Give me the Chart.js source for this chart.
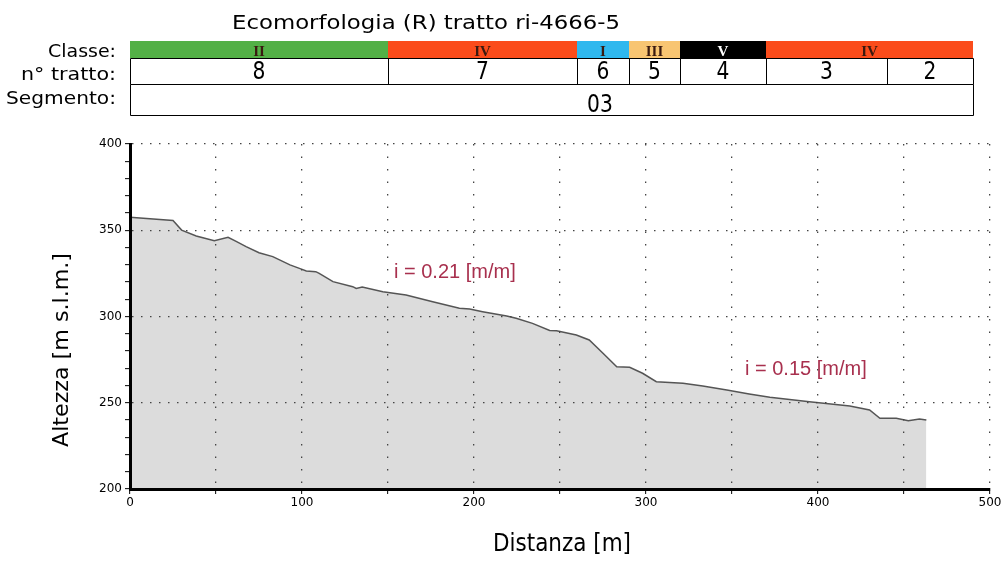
<!DOCTYPE html>
<html>
<head>
<meta charset="utf-8">
<title>Ecomorfologia (R) tratto ri-4666-5</title>
<script src="https://cdn.jsdelivr.net/npm/chart.js"></script>
<style>
  body { margin: 0; background: #fff; }
  #wrap { width: 1005px; height: 561px; }
</style>
</head>
<body>
<div id="wrap"><canvas id="profilo" width="1005" height="561"></canvas></div>
<script>
// profilo longitudinale: distanza [m] e quota [m s.l.m.]
const distanze = [0, 25, 30, 38.5, 49, 57, 62, 67.5, 75, 83, 93, 98.5, 102.5, 108, 110, 118, 129.5, 131.5, 135, 147, 160.5,
  176, 191.5, 197.5, 205, 219, 224.5, 234, 244, 248, 259.5, 267, 275, 283, 290.5, 298, 306, 321.5, 333, 347,
  360, 372, 395, 418.5, 430, 436, 445.5, 452.5, 459, 463];
const quote = [357.5, 355.6, 350.1, 346.7, 343.9, 345.9, 343.4, 340.5, 337, 334.7, 329.9, 327.9, 326.4, 326, 325, 320.2, 317.3, 316.3, 317.1, 314.4, 312.5,
  308.6, 304.8, 304.3, 302.8, 300.3, 299, 296, 291.9, 291.8, 289.3, 286.4, 278.7, 270.9, 270.6, 267.1, 262.2, 261.3, 259.7, 257.4,
  255.1, 253.2, 250.6, 248.1, 245.8, 241, 241, 239.6, 240.6, 240];

// tabella in testa (limiti in metri)
const limitiClasse = [0, 150, 260, 290, 320, 370, 490];
const classi = ['II', 'IV', 'I', 'III', 'V', 'IV'];
const coloriClasse = ['#53b046', '#fb4c1b', '#2fb8ee', '#f8c572', '#000000', '#fb4c1b'];
const limitiTratto = [0, 150, 260, 290, 320, 370, 440, 490];
const tratti = ['8', '7', '6', '5', '4', '3', '2'];
const limitiSegmento = [0, 490];
const segmenti = ['03'];
const pendenze = ['i = 0.21 [m/m]', 'i = 0.15 [m/m]'];

const SANS = '"DejaVu Sans", sans-serif';
const COND = '"DejaVu Sans Condensed", "DejaVu Sans", sans-serif';

// scrive un testo, stirato in orizzontale fino alla larghezza w (o col fattore k)
function scrivi(ctx, s, x, y, font, align, w, k) {
  ctx.font = font;
  const f = w ? w / ctx.measureText(s).width : (k || 1);
  ctx.save();
  ctx.translate(x, y);
  ctx.scale(f, 1);
  ctx.textAlign = align;
  ctx.fillText(s, 0, 0);
  ctx.restore();
}

const tabella = {
  id: 'tabella',
  beforeDraw(chart) {
    const ctx = chart.ctx;
    ctx.save();
    ctx.fillStyle = '#fff';
    ctx.fillRect(0, 0, chart.width, chart.height);
    ctx.restore();
  },
  afterDraw(chart) {
    const ctx = chart.ctx;
    const x = chart.scales.x, y = chart.scales.y;
    const px = v => Math.round(x.getPixelForValue(v));
    const r0 = 41, r1 = 58, r2 = 84, r3 = 115;
    ctx.save();
    ctx.textBaseline = 'alphabetic';
    ctx.fillStyle = '#000';

    // titolo
    scrivi(ctx, 'Ecomorfologia (R) tratto ri-4666-5', 426, 29, '19px ' + SANS, 'center', 388);

    // etichette righe
    scrivi(ctx, 'Classe:', 116, 57, '18px ' + SANS, 'right', 68);
    scrivi(ctx, 'n° tratto:', 116, 80, '18px ' + SANS, 'right', 95);
    scrivi(ctx, 'Segmento:', 116, 104, '18px ' + SANS, 'right', 110);

    // classe
    classi.forEach((c, i) => {
      const a = px(limitiClasse[i]), b = px(limitiClasse[i + 1]);
      ctx.fillStyle = coloriClasse[i];
      ctx.fillRect(a, r0, b - a, r1 - r0);
      ctx.fillStyle = coloriClasse[i] === '#000000' ? '#fff' : '#3a1a10';
      ctx.font = 'bold 15px "Liberation Serif", serif';
      ctx.textAlign = 'center';
      ctx.fillText(c, (a + b) / 2, 56);
    });

    // tratti e segmento
    ctx.strokeStyle = '#000';
    ctx.lineWidth = 1;
    ctx.fillStyle = '#000';
    const a0 = px(limitiTratto[0]) + 0.5, a1 = px(limitiTratto[limitiTratto.length - 1]) + 0.5;
    ctx.beginPath();
    [r1, r2, r3].forEach(r => { ctx.moveTo(a0, r + 0.5); ctx.lineTo(a1, r + 0.5); });
    limitiTratto.forEach(m => { ctx.moveTo(px(m) + 0.5, r1 + 0.5); ctx.lineTo(px(m) + 0.5, r2 + 0.5); });
    limitiSegmento.forEach(m => { ctx.moveTo(px(m) + 0.5, r2 + 0.5); ctx.lineTo(px(m) + 0.5, r3 + 0.5); });
    ctx.stroke();
    tratti.forEach((t, i) => {
      const a = px(limitiTratto[i]), b = px(limitiTratto[i + 1]);
      scrivi(ctx, t, (a + b) / 2, 79, '25px ' + COND, 'center', 0, 0.9);
    });
    segmenti.forEach(s => {
      scrivi(ctx, s, px(273), 112, '25px ' + COND, 'center', 0, 0.9);
    });

    // pendenze
    ctx.fillStyle = '#a8304e';
    ctx.font = '20px "Liberation Sans", Arial, sans-serif';
    ctx.textAlign = 'left';
    ctx.textBaseline = 'middle';
    ctx.fillText(pendenze[0], px(153.5), y.getPixelForValue(325.5));
    ctx.fillText(pendenze[1], px(357.5), y.getPixelForValue(269));

    // titoli assi
    ctx.fillStyle = '#000';
    ctx.textBaseline = 'middle';
    ctx.save();
    ctx.translate(63, 350);
    ctx.rotate(-Math.PI / 2);
    scrivi(ctx, 'Altezza [m s.l.m.]', 0, 0, '21px ' + SANS, 'center', 194);
    ctx.restore();
    scrivi(ctx, 'Distanza [m]', 562, 545, '24px ' + COND, 'center', 138);
    ctx.restore();
  }
};

new Chart(document.getElementById('profilo'), {
  type: 'line',
  data: {
    datasets: [{
      data: distanze.map((d, i) => ({ x: d, y: quote[i] })),
      borderColor: '#555',
      borderWidth: 1.5,
      backgroundColor: '#dcdcdc',
      fill: 'start',
      pointRadius: 0,
      tension: 0
    }]
  },
  options: {
    responsive: false,
    animation: false,
    devicePixelRatio: 1,
    layout: { padding: { top: 144, right: 15, left: 0, bottom: 0 } },
    plugins: { legend: { display: false }, tooltip: { enabled: false } },
    scales: {
      x: {
        type: 'linear',
        min: 0,
        max: 500,
        afterFit: s => { s.height = 72; },
        ticks: {
          stepSize: 50,
          autoSkip: false,
          maxRotation: 0,
          padding: 2,
          color: '#000',
          font: { family: 'DejaVu Sans', size: 12 },
          callback: v => (v % 100 === 0 ? v : '')
        },
        grid: { z: 1, color: '#444', lineWidth: 1.3, borderDash: [1.5, 11], tickColor: '#000', tickLength: 5, tickWidth: 1 },
        border: { z: 2, color: '#000', width: 3, dash: [1.5, 11] }
      },
      y: {
        min: 200,
        max: 400,
        afterFit: s => { s.width = 130; },
        ticks: {
          stepSize: 10,
          autoSkip: false,
          padding: 3,
          color: '#000',
          font: { family: 'DejaVu Sans', size: 12 },
          callback: v => (v % 50 === 0 ? v : '')
        },
        grid: {
          z: 1,
          color: c => (c.tick && c.tick.value % 50 === 0 ? '#444' : 'rgba(0,0,0,0)'),
          lineWidth: 1.3,
          borderDash: [1.5, 7.5],
          tickColor: '#000',
          tickLength: 5,
          tickWidth: 1
        },
        border: { z: 2, color: '#000', width: 3, dash: [1.5, 7.5] }
      }
    }
  },
  plugins: [tabella]
});
</script>
</body>
</html>
